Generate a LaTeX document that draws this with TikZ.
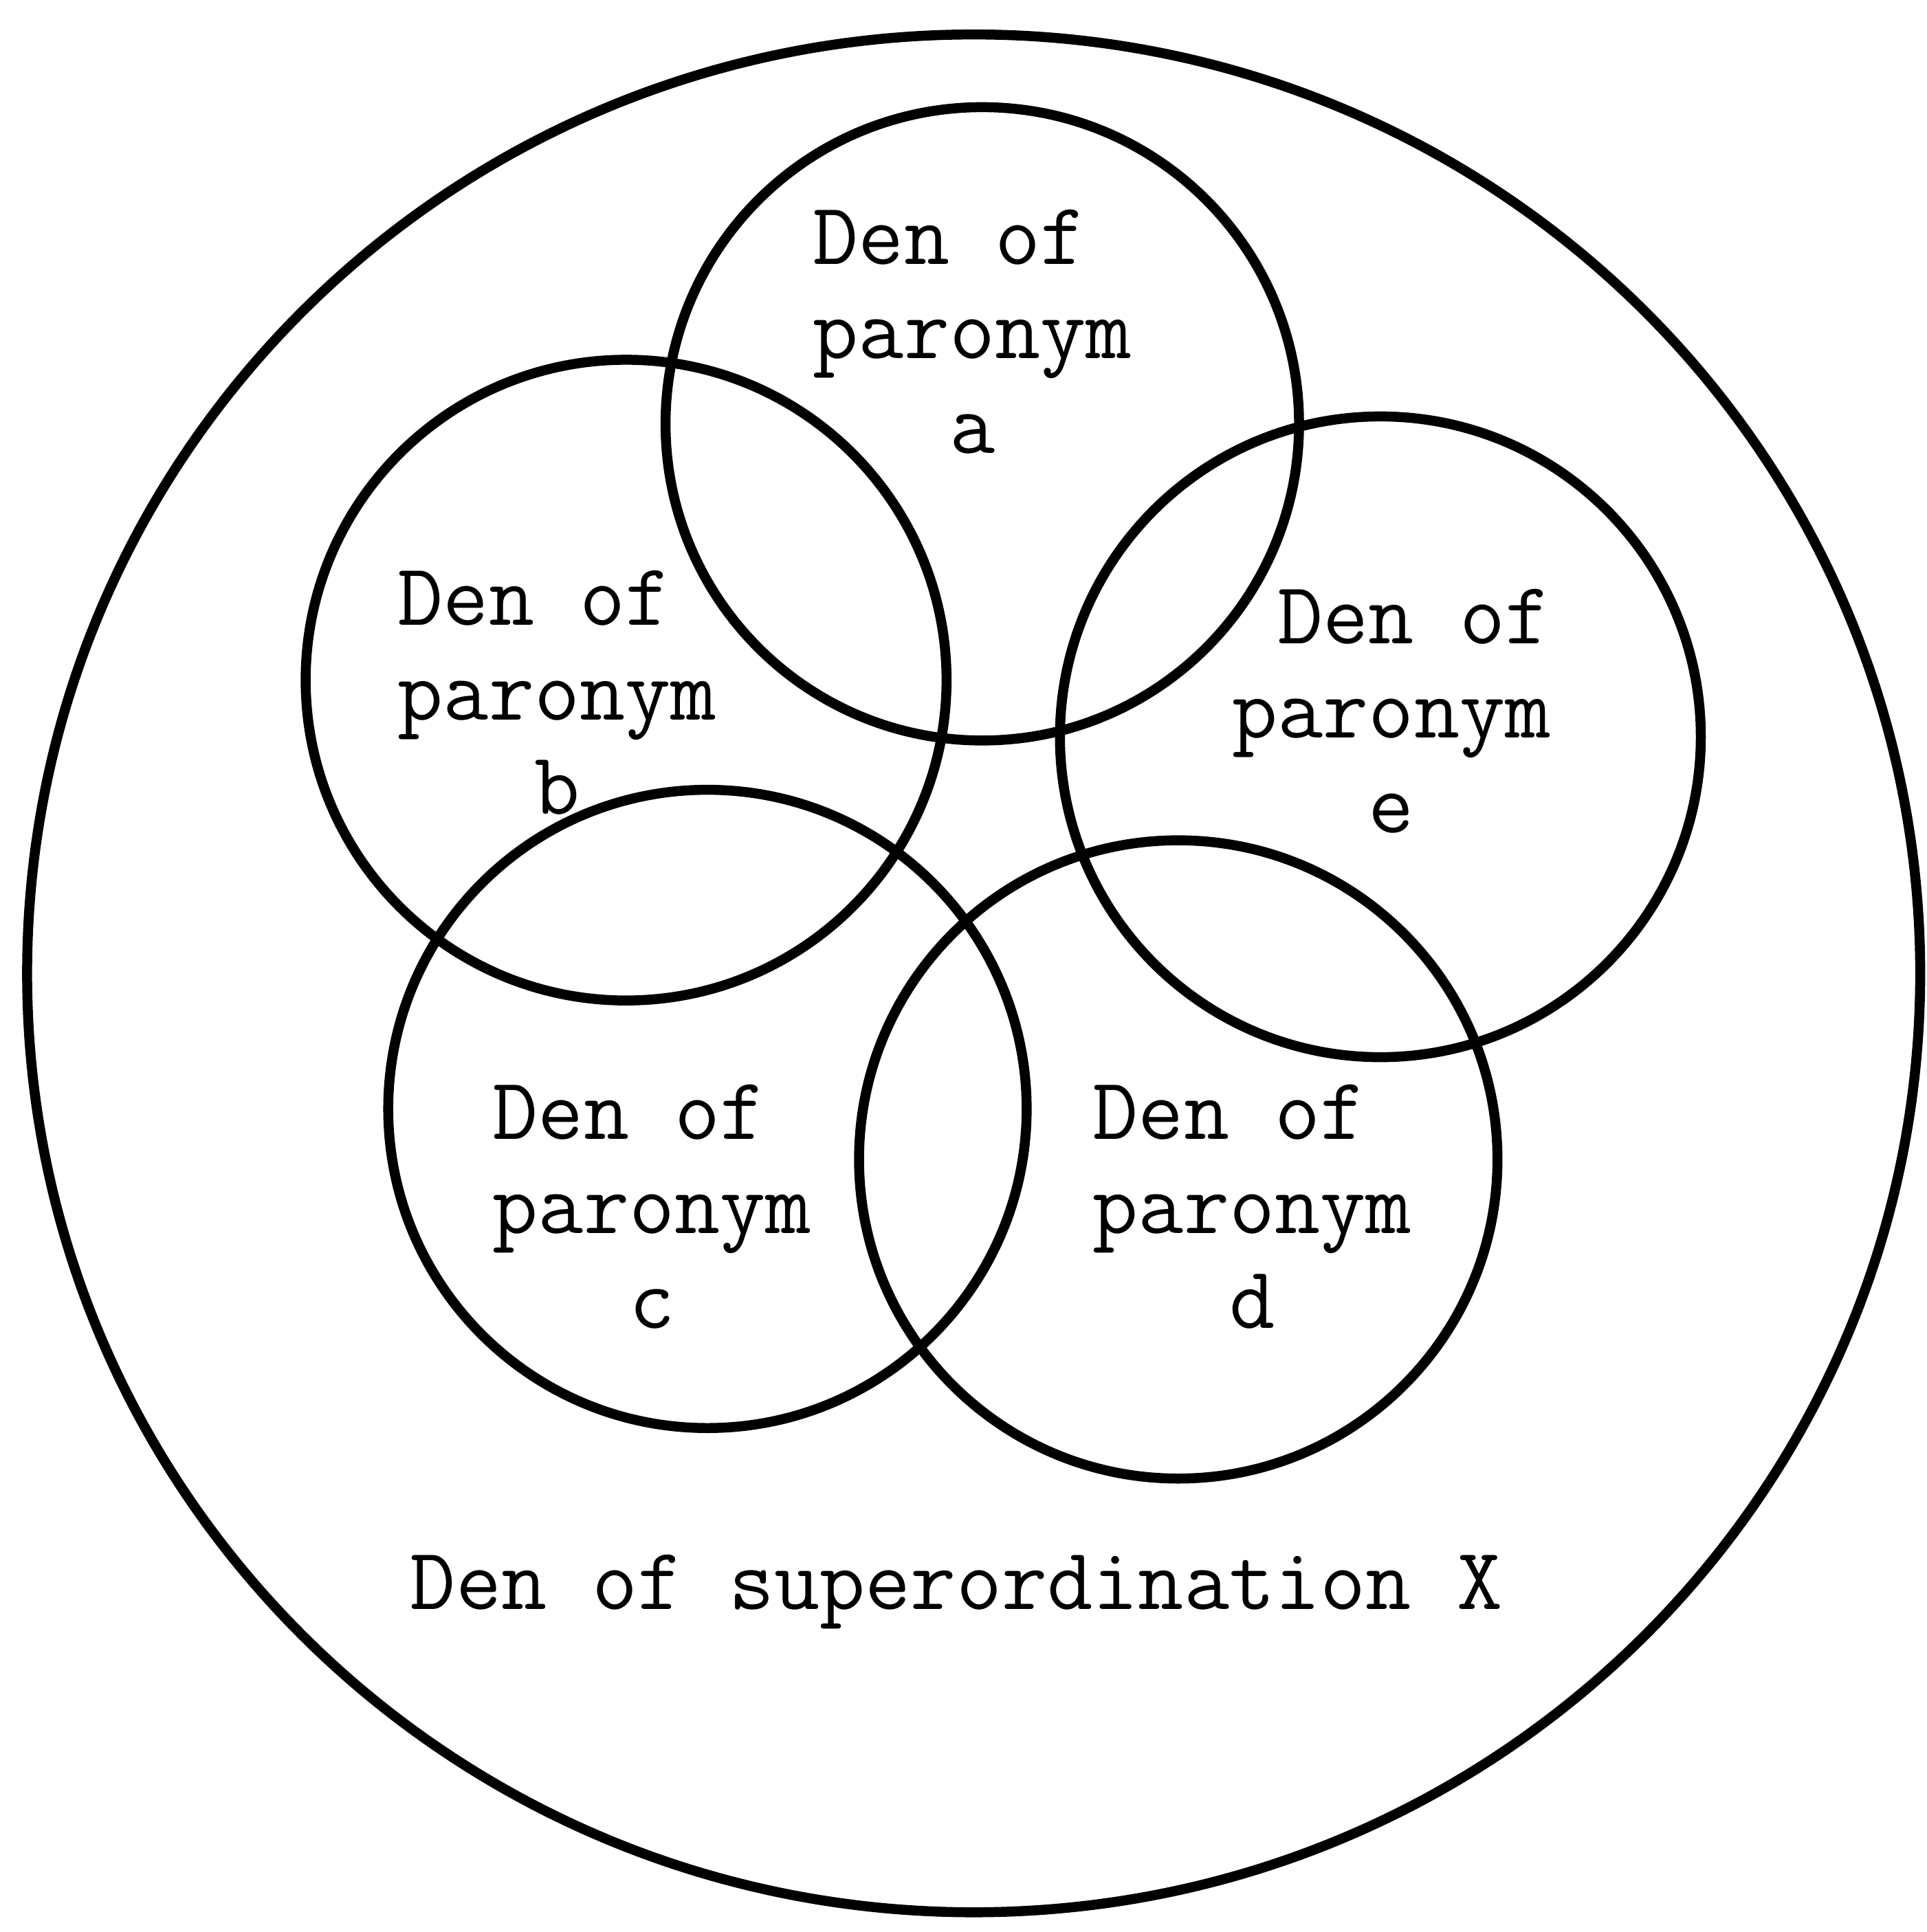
\documentclass[tikz,border=0pt]{standalone}
\usepackage{fontspec}
\tikzset{
  denset/.style={line width=2.3pt},
  denlabel/.style={font=\ttfamily\fontsize{20.4}{21.8}\selectfont, inner sep=0pt}
}
\begin{document}
\begin{tikzpicture}
\useasboundingbox (0,0) rectangle (15.63,15.68);
\draw[denset] (7.90,7.78) ellipse (7.68 and 7.62);

\foreach \x/\y/\r in {7.97/12.24/2.57, 5.08/10.16/2.60, 11.20/9.70/2.60, 5.74/6.68/2.59, 9.56/6.27/2.59}{
    \draw[denset] (\x,\y) circle (\r);
}

\node[denlabel, align=left] (para) at (7.89,12.91) {Den of\\paronym\\\phantom{par}a};
\node[denlabel, align=left] (parb) at (4.52,9.98) {Den of\\paronym\\\phantom{par}b};
\node[denlabel, align=right] (pare) at (11.29,9.83) {Den of\\paronym\\e\phantom{nym}};
\node[denlabel, align=left] (parc) at (5.29,5.81) {Den of\\paronym\\\phantom{par}c};
\node[denlabel, align=left] (pard) at (10.16,5.81) {Den of\\paronym\\\phantom{par}d};
\node[denlabel] (superx) at (7.76,2.76) {Den of superordination X};
\end{tikzpicture}
\end{document}
